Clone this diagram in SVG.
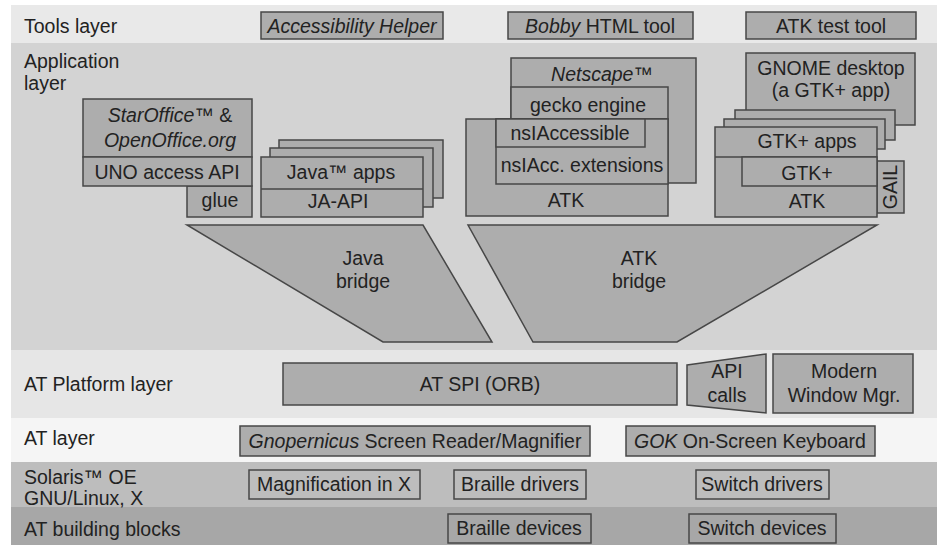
<svg xmlns="http://www.w3.org/2000/svg" width="942" height="545" viewBox="0 0 942 545">
<style>
text{font-family:"Liberation Sans",Arial,Helvetica,sans-serif;font-size:19.5px;fill:#222}
.c{text-anchor:middle}
.i{font-style:italic}
.box{fill:#adadad;stroke:#474747;stroke-width:1.5}
.ol{fill:none;stroke:#474747;stroke-width:1.5}
</style>
<rect width="942" height="545" fill="#ffffff"/>
<g id="bands">
<rect x="11" y="5" width="926" height="38" fill="#e9e9e9"/>
<rect x="11" y="43" width="926" height="307" fill="#d3d3d3"/>
<rect x="11" y="350" width="926" height="68" fill="#e6e6e6"/>
<rect x="11" y="418" width="926" height="44" fill="#f5f5f5"/>
<rect x="11" y="462" width="926" height="45" fill="#bdbdbd"/>
<rect x="11" y="507" width="926" height="38" fill="#a7a7a7"/>
</g>
<g id="layer-labels">
<text x="24" y="33">Tools layer</text>
<text x="24" y="68">Application</text>
<text x="24" y="90">layer</text>
<text x="24" y="391">AT Platform layer</text>
<text x="24" y="445">AT layer</text>
<text x="24" y="484">Solaris™ OE</text>
<text x="24" y="505">GNU/Linux, X</text>
<text x="24" y="536">AT building blocks</text>
</g>
<g id="tool-accessibility-helper">
<rect class="box" x="261" y="12" width="182" height="27"/>
<text class="c i" x="352" y="33">Accessibility Helper</text>
</g>
<g id="tool-bobby">
<rect class="box" x="508" y="12" width="185" height="27"/>
<text class="c" x="600" y="33"><tspan class="i">Bobby</tspan> HTML tool</text>
</g>
<g id="tool-atk-test">
<rect class="box" x="746" y="12" width="170" height="27"/>
<text class="c" x="831" y="33">ATK test tool</text>
</g>
<g id="staroffice">
<rect class="box" x="187" y="186" width="65" height="31"/>
<text class="c" x="220" y="207">glue</text>
<rect class="box" x="83" y="99" width="169" height="58"/>
<text class="c i" x="170" y="122">StarOffice<tspan font-style="normal">™ &amp;</tspan></text>
<text class="c i" x="170" y="147">OpenOffice.org</text>
<rect class="box" x="83" y="157" width="169" height="29"/>
<text class="c" x="167" y="179">UNO access API</text>
</g>
<g id="java-apps">
<rect class="box" x="279" y="140" width="164" height="58"/>
<rect class="box" x="270" y="148" width="163" height="59"/>
<rect class="box" x="261" y="157" width="162" height="60"/>
<line class="ol" x1="261" y1="189" x2="423" y2="189"/>
<text class="c" x="341" y="179">Java™ apps</text>
<text class="c" x="338" y="208">JA-API</text>
</g>
<g id="netscape">
<rect class="box" x="511" y="58" width="185" height="125"/>
<text class="c i" x="602" y="81">Netscape™</text>
<rect class="box" x="511" y="87" width="157" height="32"/>
<text class="c" x="588" y="112">gecko engine</text>
<rect class="box" x="466" y="119" width="202" height="97"/>
<text class="c" x="566" y="207">ATK</text>
<rect class="box" x="496" y="119" width="172" height="65"/>
<text class="c" x="582" y="172">nsIAcc. extensions</text>
<rect class="box" x="496" y="119" width="149" height="28"/>
<text class="c" x="570" y="140">nsIAccessible</text>
</g>
<g id="gnome">
<rect class="box" x="746" y="53" width="169" height="72"/>
<text class="c" x="831" y="75">GNOME desktop</text>
<text class="c" x="831" y="97">(a GTK+ app)</text>
</g>
<g id="gtk-apps">
<rect class="box" x="877" y="161" width="27" height="52"/>
<text class="c" transform="translate(897,187) rotate(-90)" font-size="18">GAIL</text>
<rect class="box" x="735" y="110" width="160" height="30"/>
<rect class="box" x="724" y="119" width="161" height="30"/>
<rect class="box" x="715" y="127" width="162" height="90"/>
<line class="ol" x1="715" y1="157" x2="877" y2="157"/>
<text class="c" x="807" y="148">GTK+ apps</text>
<rect class="box" x="742" y="157" width="135" height="29"/>
<text class="c" x="807" y="180">GTK+</text>
<text class="c" x="807" y="208">ATK</text>
</g>
<g id="java-bridge">
<polygon class="box" points="187,225 423,225 492,342 383,342"/>
<text class="c" x="363" y="265">Java</text>
<text class="c" x="363" y="288">bridge</text>
</g>
<g id="atk-bridge">
<polygon class="box" points="468,225 877,225 677,342 533,342"/>
<text class="c" x="639" y="265">ATK</text>
<text class="c" x="639" y="288">bridge</text>
</g>
<g id="at-spi">
<rect class="box" x="283" y="363" width="394" height="42"/>
<text class="c" x="480" y="391">AT SPI (ORB)</text>
</g>
<g id="api-calls">
<polygon class="box" points="687,365 766,354 766,413 687,405"/>
<text class="c" x="727" y="378">API</text>
<text class="c" x="727" y="402">calls</text>
</g>
<g id="window-manager">
<rect class="box" x="773" y="354" width="140" height="59"/>
<text class="c" x="844" y="378">Modern</text>
<text class="c" x="844" y="402">Window Mgr.</text>
</g>
<g id="gnopernicus">
<rect class="box" x="240" y="426" width="350" height="30"/>
<text class="c" x="415" y="448"><tspan class="i">Gnopernicus</tspan> Screen Reader/Magnifier</text>
</g>
<g id="gok">
<rect class="box" x="626" y="426" width="249" height="30"/>
<text class="c" x="750" y="448"><tspan class="i">GOK</tspan> On-Screen Keyboard</text>
</g>
<g id="magnification">
<rect class="ol" x="249" y="470" width="171" height="29"/>
<text class="c" x="334" y="491">Magnification in X</text>
</g>
<g id="braille-drivers">
<rect class="ol" x="454" y="470" width="132" height="29"/>
<text class="c" x="520" y="491">Braille drivers</text>
</g>
<g id="switch-drivers">
<rect class="ol" x="696" y="470" width="133" height="29"/>
<text class="c" x="762" y="491">Switch drivers</text>
</g>
<g id="braille-devices">
<rect class="ol" x="448" y="514" width="143" height="29"/>
<text class="c" x="519" y="535">Braille devices</text>
</g>
<g id="switch-devices">
<rect class="ol" x="689" y="514" width="147" height="29"/>
<text class="c" x="762" y="535">Switch devices</text>
</g>
<g id="connectors"></g>
</svg>
